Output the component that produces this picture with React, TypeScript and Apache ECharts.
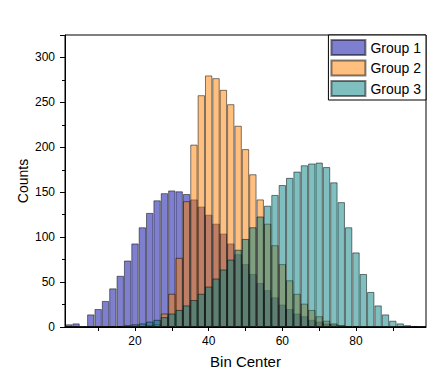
import React, { useEffect, useRef } from 'react';
import * as echarts from 'echarts';

const binCenters = [
  2, 4, 6, 8, 10, 12, 14, 16, 18, 20, 22, 24, 26, 28, 30, 32, 34, 36, 38, 40,
  42, 44, 46, 48, 50, 52, 54, 56, 58, 60, 62, 64, 66, 68, 70, 72, 74, 76, 78, 80,
  82, 84, 86, 88, 90, 92, 94, 96, 98,
];

const group1 = [
  3, 4, 0, 14, 20, 29, 43, 57, 74, 93, 111, 127, 141, 149, 152, 151, 148, 142, 134, 125,
  115, 104, 93, 81, 70, 59, 49, 41, 33, 25, 20, 15, 12, 8, 6, 4, 3, 2, 1, 1,
  0, 0, 0, 0, 0, 0, 0, 0, 0,
];

const group2 = [
  0, 0, 0, 0, 0, 0, 0, 0, 0, 0, 1, 2, 3, 15, 37, 77, 140, 203, 258, 280,
  277, 264, 248, 224, 198, 170, 142, 115, 91, 70, 52, 37, 26, 19, 12, 7, 4, 2, 1, 1,
  0, 0, 0, 0, 0, 0, 0, 0, 0,
];

const group3 = [
  0, 0, 0, 0, 0, 0, 1, 1, 2, 3, 4, 6, 8, 11, 15, 19, 24, 30, 37, 45,
  54, 64, 75, 86, 98, 111, 123, 135, 147, 158, 166, 173, 180, 182, 183, 178, 161, 139, 111, 83,
  59, 39, 24, 14, 7, 4, 2, 1, 0,
];

const seriesNames = ['Group 1', 'Group 2', 'Group 3'];
const seriesColors = ['rgba(0,0,160,0.5)', 'rgba(255,128,0,0.5)', 'rgba(0,128,128,0.5)'];

const FONT = '"Liberation Sans", Arial, sans-serif';

export default function App() {
  const ref = useRef<HTMLDivElement>(null);

  useEffect(() => {
    if (!ref.current) return;
    const chart = echarts.init(ref.current, null, { renderer: 'svg' });
    const values = [group1, group2, group3];
    chart.setOption({
      animation: false,
      backgroundColor: '#fff',
      textStyle: { fontFamily: FONT, color: '#000' },
      grid: {
        left: 65,
        right: 18,
        top: 35,
        bottom: 42,
        containLabel: false,
        outerBoundsMode: 'none',
        show: true,
        borderColor: '#000',
        borderWidth: 1,
        backgroundColor: 'transparent',
      },
      legend: {
        orient: 'vertical',
        right: 18,
        top: 35,
        data: seriesNames,
        icon: 'rect',
        itemWidth: 34,
        itemHeight: 15,
        itemGap: 3.5,
        padding: [4, 5, 3, 2],
        borderColor: '#000',
        borderWidth: 1,
        backgroundColor: '#fff',
        borderRadius: 0,
        textStyle: { fontFamily: FONT, fontSize: 14, color: '#000' },
        selectedMode: false,
      },
      xAxis: {
        type: 'category',
        data: binCenters.map(String),
        boundaryGap: true,
        name: 'Bin Center',
        nameLocation: 'middle',
        nameGap: 27,
        nameMoveOverlap: false,
        nameTextStyle: { fontFamily: FONT, fontSize: 15, color: '#000' },
        axisLine: { show: true, lineStyle: { color: '#000', width: 1 } },
        axisTick: {
          show: true,
          alignWithLabel: true,
          length: 4,
          interval: (_i: number, v: string) => Number(v) % 10 === 0,
          lineStyle: { color: '#000' },
        },
        axisLabel: {
          interval: (_i: number, v: string) => Number(v) % 20 === 0,
          fontFamily: FONT,
          fontSize: 12,
          color: '#000',
          margin: 8,
        },
        splitLine: { show: false },
      },
      yAxis: [
        {
          type: 'value',
          min: 0,
          max: 325,
          interval: 25,
          name: 'Counts',
          nameLocation: 'middle',
          nameGap: 35,
          nameMoveOverlap: false,
          nameTextStyle: { fontFamily: FONT, fontSize: 14, color: '#000' },
          axisLine: { show: true, lineStyle: { color: '#000', width: 1 } },
          axisTick: { show: true, length: 3, lineStyle: { color: '#000' } },
          axisLabel: {
            fontFamily: FONT,
            fontSize: 12,
            color: '#000',
            margin: 10,
            formatter: (v: number) => (v % 50 === 0 ? String(v) : ''),
          },
          splitLine: { show: false },
        },
        {
          type: 'value',
          min: 0,
          max: 325,
          interval: 50,
          position: 'left',
          axisLine: { show: false },
          axisTick: { show: true, length: 5, lineStyle: { color: '#000' } },
          axisLabel: { show: false },
          splitLine: { show: false },
        },
      ],
      series: values.map((data, i) => ({
        name: seriesNames[i],
        type: 'bar',
        yAxisIndex: 0,
        data,
        barGap: '-100%',
        barCategoryGap: '0%',
        itemStyle: {
          color: seriesColors[i],
          borderColor: 'rgba(0,0,0,0.5)',
          borderWidth: 1,
        },
        emphasis: { disabled: true },
      })),
    });
    return () => chart.dispose();
  }, []);

  return (
    <div
      ref={ref}
      style={{ position: 'fixed', left: 0, top: 0, width: 444, height: 369 }}
    />
  );
}
